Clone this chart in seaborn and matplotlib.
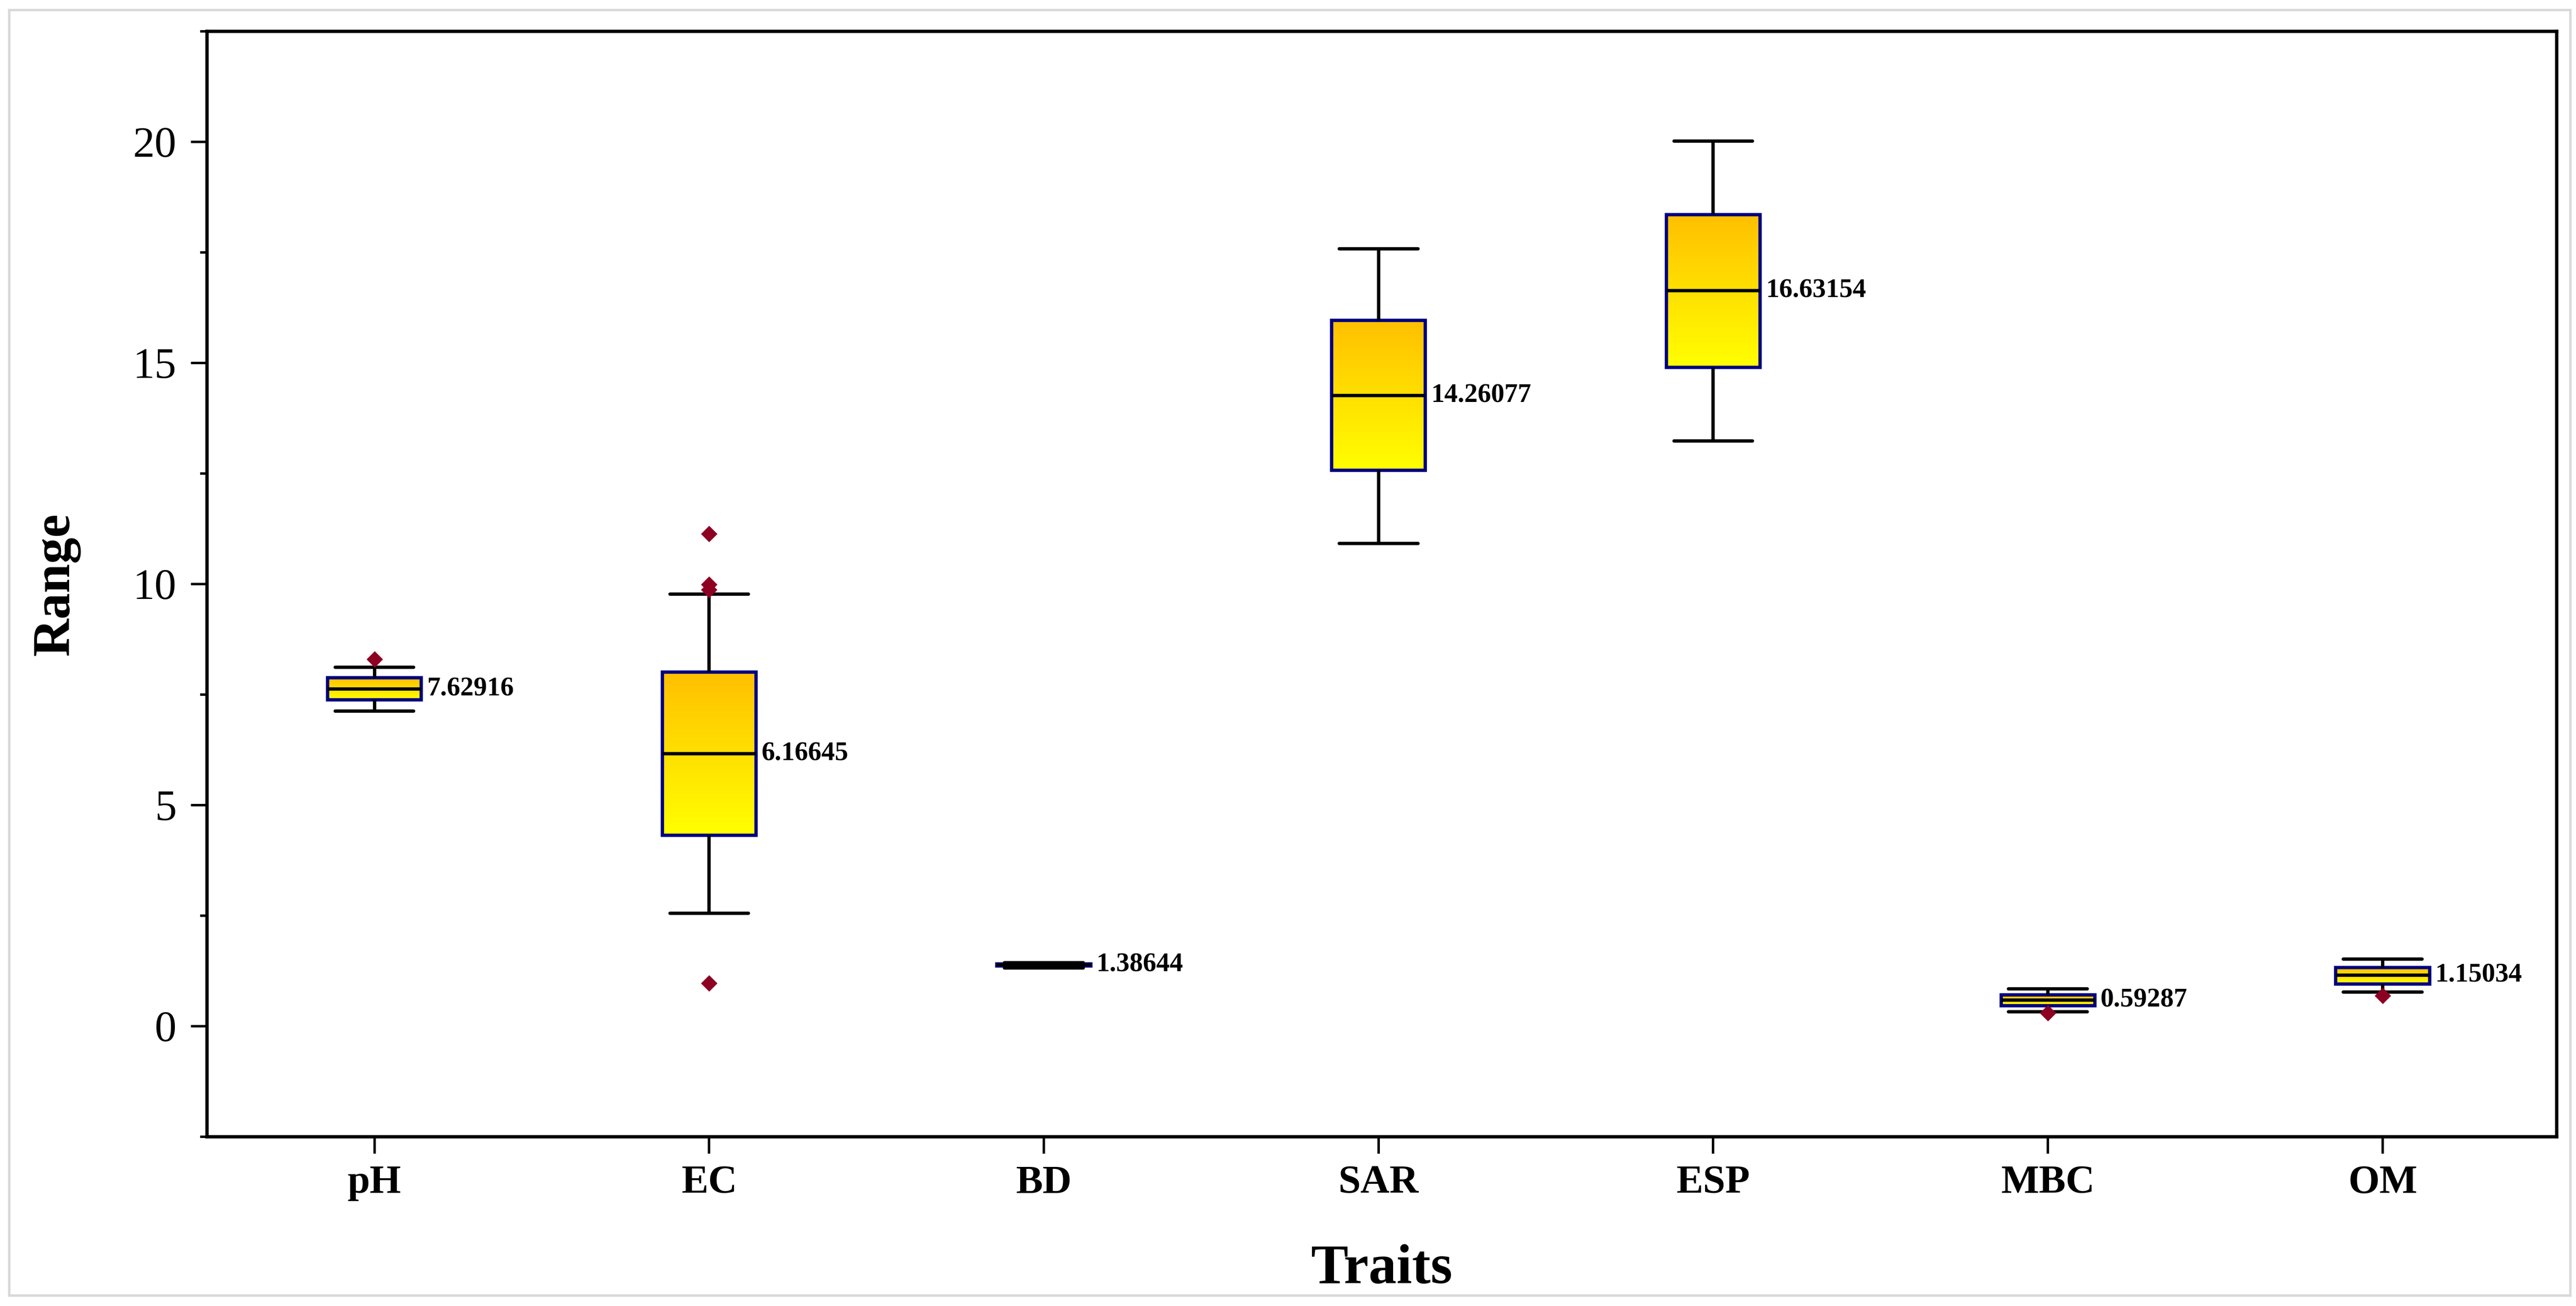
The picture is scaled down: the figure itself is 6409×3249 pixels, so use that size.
import matplotlib

matplotlib.use("Agg")

import matplotlib.pyplot as plt
import numpy as np
import pandas as pd
import seaborn as sns
from matplotlib.colors import LinearSegmentedColormap
from matplotlib.patches import Rectangle
from matplotlib.ticker import MultipleLocator

# values
traits = ["pH", "EC", "BD", "SAR", "ESP", "MBC", "OM"]
whisker_low = [7.13, 2.55, 1.32, 10.92, 13.24, 0.33, 0.77]
q1 = [7.38, 4.32, 1.365, 12.57, 14.90, 0.46, 0.95]
medians = [7.62916, 6.16645, 1.38644, 14.26077, 16.63154, 0.59287, 1.15034]
q3 = [7.88, 8.01, 1.405, 15.96, 18.35, 0.71, 1.33]
whisker_high = [8.12, 9.77, 1.44, 17.58, 20.02, 0.845, 1.52]

outlier_trait = ["pH", "EC", "EC", "EC", "EC", "MBC", "OM"]
outlier_value = [8.30, 11.14, 9.99, 9.87, 0.97, 0.30, 0.69]


def build_table():
	# five read values per trait give exactly these quartiles and whisker ends
	rows = []
	for i, trait in enumerate(traits):
		for v in (whisker_low[i], q1[i], medians[i], q3[i], whisker_high[i]):
			rows.append({"Traits": trait, "Range": v})
	return pd.DataFrame(rows)


def add_gradient(ax):
	cmap = LinearSegmentedColormap.from_list("box_fill", ["#FFFF00", "#FFC000"])
	grad = np.linspace(0, 1, 256).reshape(-1, 1)
	for patch in list(ax.patches):
		patch.set_facecolor("none")
		patch.set_edgecolor("#000080")
		patch.set_linewidth(1.5)
		ext = patch.get_path().get_extents()
		img = ax.imshow(
			grad,
			cmap=cmap,
			origin="lower",
			aspect="auto",
			interpolation="bilinear",
			extent=[ext.x0, ext.x1, ext.y0, ext.y1],
			zorder=patch.get_zorder() - 0.05,
		)
		img.set_clip_path(patch)


def main():
	df = build_table()

	sns.set_theme(style="ticks")
	plt.rcParams["font.family"] = ["Liberation Serif", "DejaVu Serif"]
	plt.rcParams["text.color"] = "black"
	plt.rcParams["axes.labelcolor"] = "black"
	plt.rcParams["xtick.color"] = "black"
	plt.rcParams["ytick.color"] = "black"

	fig = plt.figure(figsize=(6409 / 400, 3249 / 400), dpi=400)
	ax = fig.add_axes([0.0804, 0.1296, 0.9121, 0.8464])

	sns.boxplot(
		data=df,
		x="Traits",
		y="Range",
		order=traits,
		width=0.28,
		whis=(0, 100),
		showfliers=False,
		color="#FFE000",
		linecolor="black",
		linewidth=1.5,
		capwidths=0.235,
		ax=ax,
	)
	add_gradient(ax)

	sns.stripplot(
		x=outlier_trait,
		y=outlier_value,
		order=traits,
		jitter=False,
		marker="D",
		color="#8E0022",
		size=5.2,
		linewidth=0,
		zorder=4,
		ax=ax,
	)

	for i, med in enumerate(medians):
		ax.text(i + 0.157, med, f"{med:.5f}", ha="left", va="center",
				fontsize=12, fontweight="bold", color="black", zorder=5)

	ax.set_xlim(-0.5, 6.52)
	ax.set_ylim(-2.5, 22.5)
	ax.yaxis.set_major_locator(MultipleLocator(5))
	ax.yaxis.set_minor_locator(MultipleLocator(2.5))

	for side in ["left", "right", "top", "bottom"]:
		ax.spines[side].set_visible(True)
		ax.spines[side].set_color("black")
		ax.spines[side].set_linewidth(1.5)

	ax.tick_params(axis="y", which="major", length=7.2, width=1.1,
				   labelsize=19.5, pad=6.5, direction="out", color="black",
				   labelcolor="black")
	ax.tick_params(axis="y", which="minor", length=3.1, width=1.1,
				   direction="out", color="black")
	ax.tick_params(axis="x", which="major", length=7.6, width=1.1,
				   labelsize=18, pad=5, direction="out", color="black",
				   labelcolor="black")
	ax.tick_params(top=False, right=False)
	for lab in ax.get_xticklabels():
		lab.set_fontweight("bold")

	ax.set_xlabel("Traits", fontsize=25, fontweight="bold", color="black")
	ax.xaxis.set_label_coords(0.5, -0.097)
	ax.set_ylabel("Range", fontsize=23.5, fontweight="bold", color="black")
	ax.yaxis.set_label_coords(-0.054, 0.5)

	fig.patches.append(
		Rectangle((0.0036, 0.008), 0.9942, 0.9843, transform=fig.transFigure,
				  fill=False, edgecolor="#D9D9D9", linewidth=1.1)
	)

	fig.savefig("out.png", dpi=400, facecolor="white")
	plt.close(fig)


if __name__ == "__main__":
	main()
